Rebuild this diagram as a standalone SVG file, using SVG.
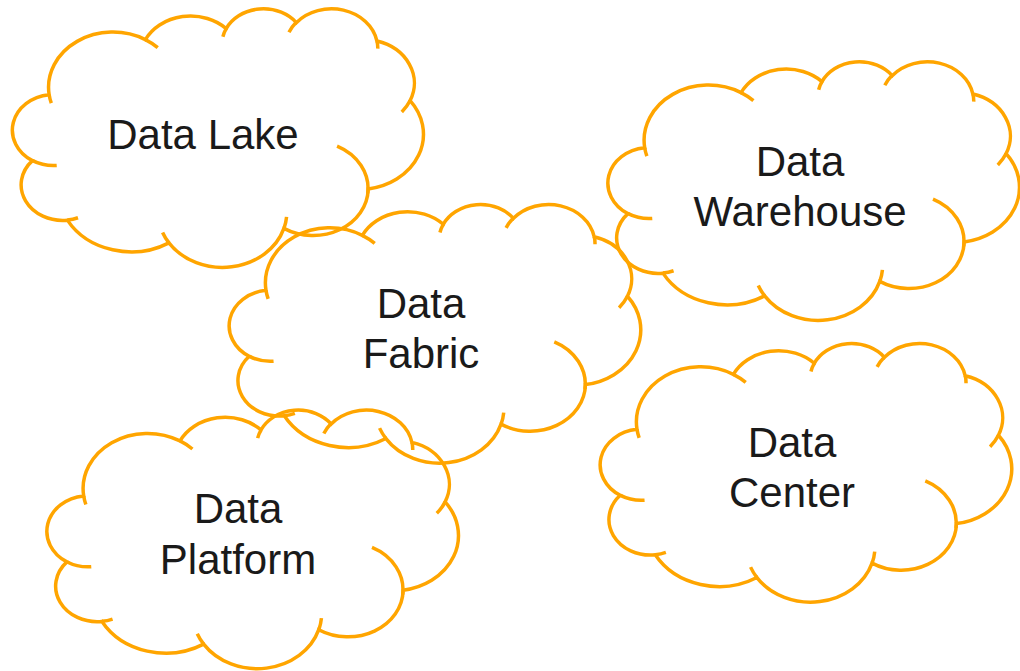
<svg xmlns="http://www.w3.org/2000/svg" xmlns:xlink="http://www.w3.org/1999/xlink" width="1020" height="671" viewBox="0 0 1020 671">
<style>
.t{font-family:"Liberation Sans",Arial,sans-serif;font-size:42px;fill:#1a1a1a;text-anchor:middle}
</style>
<defs>
<g id="cloud">
<path fill="none" stroke="#FFA500" stroke-width="3.5" vector-effect="non-scaling-stroke" d="M3900,14370 A6753,9190 0 0 1 14000,5192 A5333,7267 0 0 1 22490,3350 A4365,5945 0 0 1 29850,2360 A4857,6595 0 0 1 38315,5430 A5333,7273 0 0 1 41798,15354 A6775,9220 0 0 1 37390,30090 A5785,7867 0 0 1 28545,36680 A6752,9215 0 0 1 16478,39090 A7720,10543 0 0 1 5815,35300 A4360,5918 0 0 1 2140,25370 A4345,5945 0 0 1 3900,14370 Z"/>
<path fill="none" stroke="#FFA500" stroke-width="3.5" vector-effect="non-scaling-stroke" d="M4693,26177 A4345,5945 0 0 1 2160,25380 M6928,34899 A4360,5918 0 0 1 5820,35281 M16478,39090 A6752,9215 0 0 1 15810,37350 M28827,34751 A6752,9215 0 0 1 28560,36660 M34129,22954 A5785,7867 0 0 1 37352,30816 M41798,15354 A5333,7273 0 0 1 40923,17256 M38324,5426 A4857,6595 0 0 1 38401,6690 M29078,3952 A4857,6595 0 0 1 29820,2340 M22141,4720 A4365,5945 0 0 1 22500,3330 M14000,5192 A6753,9190 0 0 1 15300,6541 M4127,15789 A6753,9190 0 0 1 3900,14370"/>
</g>
</defs>
<g id="data-lake">
<use xlink:href="#cloud" href="#cloud" transform="translate(12,8.5) scale(0.009525,0.0059954)"/>
<text class="t" x="203" y="149">Data Lake</text>
</g>
<g id="data-warehouse">
<use xlink:href="#cloud" href="#cloud" transform="translate(607.5,61.5) scale(0.009537,0.0059954)"/>
<text class="t" x="800" y="176">Data</text>
<text class="t" x="800" y="226">Warehouse</text>
</g>
<g id="data-fabric">
<use xlink:href="#cloud" href="#cloud" transform="translate(228.8,204.2) scale(0.009537,0.0059954)"/>
<text class="t" x="421" y="318">Data</text>
<text class="t" x="421" y="368">Fabric</text>
</g>
<g id="data-platform">
<use xlink:href="#cloud" href="#cloud" transform="translate(46.5,409.8) scale(0.009537,0.0059954)"/>
<text class="t" x="238" y="523">Data</text>
<text class="t" x="238" y="574">Platform</text>
</g>
<g id="data-center">
<use xlink:href="#cloud" href="#cloud" transform="translate(599.8,343.2) scale(0.009537,0.0059954)"/>
<text class="t" x="792" y="457">Data</text>
<text class="t" x="792" y="507">Center</text>
</g>
<g id="connectors"/>
</svg>
